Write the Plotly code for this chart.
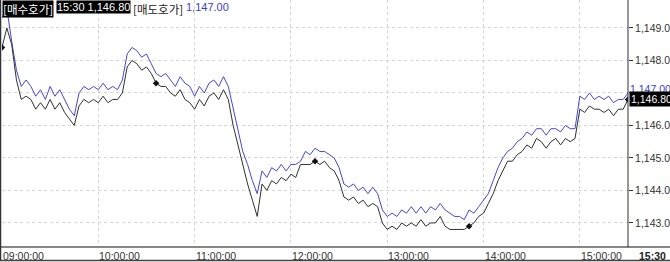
import pandas as pd
import plotly.graph_objects as go

# ---- data (3-minute samples, 09:00 -> 15:30) ----
start_time = "2024-01-02 09:00"
step_minutes = 3

ask_prices = [  # 매도호가 (blue)
    1149.3, 1149.6, 1148.6, 1147.7, 1147.2, 1147.4, 1147.2, 1146.9, 1147.1, 1146.8,
    1147.2, 1146.9, 1147.1, 1146.8, 1146.5, 1146.3, 1147.0, 1147.2, 1147.1, 1147.2,
    1147.1, 1147.3, 1147.1, 1147.2, 1147.1, 1147.4, 1148.2, 1148.4, 1148.3, 1148.1,
    1148.2, 1147.9, 1147.6, 1147.5, 1147.6, 1147.4, 1147.2, 1147.5, 1147.3, 1147.2,
    1146.9, 1147.2, 1147.0, 1147.3, 1147.4, 1147.2, 1147.5, 1147.2, 1146.5, 1145.9,
    1145.2, 1144.8, 1144.3, 1143.9, 1144.6, 1144.4, 1144.7, 1144.6, 1144.8, 1144.6,
    1144.8, 1144.8, 1144.9, 1145.2, 1145.1, 1145.3, 1145.2, 1145.2, 1145.1, 1145.0,
    1144.7, 1144.2, 1144.1, 1144.2, 1144.0, 1144.1, 1143.9, 1144.1, 1143.9, 1143.4,
    1143.2, 1143.3, 1143.2, 1143.4, 1143.3, 1143.5, 1143.3, 1143.5, 1143.3, 1143.5,
    1143.4, 1143.6, 1143.4, 1143.3, 1143.2, 1143.2, 1143.1, 1143.4, 1143.3, 1143.5,
    1143.7, 1143.9, 1144.3, 1144.7, 1145.0, 1145.2, 1145.3, 1145.5, 1145.6, 1145.8,
    1145.7, 1145.9, 1145.9, 1145.7, 1145.9, 1145.9, 1145.8, 1146.0, 1145.9, 1145.9,
    1146.9, 1146.8, 1147.0, 1146.8, 1146.9, 1146.8, 1146.9, 1146.7, 1146.8, 1146.8,
    1147.0,
]

bid_prices = [  # 매수호가 (black)
    1148.4, 1149.0, 1148.5, 1147.4, 1146.8, 1146.9, 1146.8, 1146.5, 1146.7, 1146.5,
    1146.8, 1146.5, 1146.7, 1146.4, 1146.2, 1146.0, 1146.6, 1146.8, 1146.7, 1146.8,
    1146.7, 1146.9, 1146.7, 1146.8, 1146.8, 1147.0, 1147.8, 1148.0, 1147.9, 1147.7,
    1147.8, 1147.6, 1147.3, 1147.2, 1147.2, 1147.0, 1146.9, 1147.1, 1146.8, 1146.7,
    1146.5, 1146.8, 1146.6, 1146.9, 1147.0, 1146.8, 1147.1, 1146.8, 1146.0, 1145.4,
    1144.8, 1144.2, 1143.7, 1143.2, 1144.2, 1144.0, 1144.3, 1144.2, 1144.4, 1144.3,
    1144.5, 1144.4, 1144.8, 1144.8, 1144.8, 1144.9, 1144.8, 1144.9, 1144.7, 1144.6,
    1144.3, 1143.8, 1143.7, 1143.8, 1143.6, 1143.7, 1143.5, 1143.6, 1143.5, 1143.0,
    1142.8, 1142.9, 1142.8, 1143.0, 1142.9, 1143.0, 1142.9, 1143.1, 1142.9, 1143.0,
    1143.0, 1143.2, 1142.9, 1142.8, 1142.8, 1142.8, 1142.8, 1142.9, 1143.0, 1143.2,
    1143.3, 1143.6, 1143.9, 1144.3, 1144.6, 1144.9, 1144.9, 1145.1, 1145.2, 1145.4,
    1145.3, 1145.6, 1145.5, 1145.3, 1145.5, 1145.6, 1145.4, 1145.6, 1145.5, 1145.6,
    1146.5, 1146.4, 1146.6, 1146.5, 1146.5, 1146.4, 1146.5, 1146.3, 1146.5, 1146.5,
    1146.8,
]

trade_marker_idx = [0, 32, 65, 97, 130]

hour_ticks = ["09:00:00", "10:00:00", "11:00:00", "12:00:00", "13:00:00", "14:00:00", "15:00:00"]
price_ticks = [1143, 1144, 1145, 1146, 1147, 1148, 1149]
price_labels = ["1,143.0", "1,144.0", "1,145.0", "1,146.0", "", "1,148.0", "1,149.0"]

last_time_label = "15:30"
last_bid = 1146.80
last_ask = 1147.00

# ---- figure ----
times = pd.date_range(start_time, periods=len(ask_prices), freq=f"{step_minutes}min")
day = start_time.split(" ")[0]
end_time = f"{day} 15:30"

W, H = 670, 262
ML, MR, MT, MB = 2, 42, 0, 15
PW, PH = W - ML - MR, H - MT - MB

fig = go.Figure()
fig.add_trace(go.Scatter(x=times, y=ask_prices, mode="lines",
                         line=dict(color="#4646dc", width=1), hoverinfo="skip"))
fig.add_trace(go.Scatter(x=times, y=bid_prices, mode="lines",
                         line=dict(color="#303030", width=1), hoverinfo="skip"))
fig.add_trace(go.Scatter(x=[times[i] for i in trade_marker_idx],
                         y=[bid_prices[i] for i in trade_marker_idx],
                         mode="markers",
                         marker=dict(symbol="diamond", size=5, color="#111111"),
                         hoverinfo="skip"))

font_base = "Liberation Sans, Arial, sans-serif"
kfont = "Noto Sans CJK KR, sans-serif"

annotations = []
for t in hour_ticks:
    annotations.append(dict(x=f"{day} {t}", y=0, xref="x", yref="paper",
                            text=t, showarrow=False, xanchor="left", yanchor="top",
                            yshift=-1, xshift=-1,
                            font=dict(family=font_base, size=10.5, color="#333333")))
annotations.append(dict(x=(W - 2 - ML) / PW, y=0, xref="paper", yref="paper",
                        text=f"<b>{last_time_label}</b>", showarrow=False,
                        xanchor="right", yanchor="top", yshift=-1,
                        font=dict(family=font_base, size=10.5, color="#222222")))

# header
annotations += [
    dict(x=0, y=1, xref="paper", yref="paper", text="[매수호가]", showarrow=False,
         xanchor="left", yanchor="top", bgcolor="#000000", borderpad=0,
         font=dict(family=kfont, size=11.5, color="#ffffff")),
    dict(x=54 / PW, y=1, xref="paper", yref="paper",
         text=f"{last_time_label} {last_bid:,.2f}", showarrow=False,
         xanchor="left", yanchor="top", bgcolor="#000000", borderpad=0,
         font=dict(family=font_base, size=11, color="#ffffff")),
    dict(x=130 / PW, y=1, xref="paper", yref="paper", text="[매도호가]", showarrow=False,
         xanchor="left", yanchor="top", borderpad=0,
         font=dict(family=kfont, size=11.5, color="#222222")),
    dict(x=183 / PW, y=1, xref="paper", yref="paper", text=f"{last_ask:,.2f}",
         showarrow=False, xanchor="left", yanchor="top", borderpad=0,
         font=dict(family=font_base, size=11, color="#3c3ccc")),
]
# right-side current price labels (bid box drawn over the ask label as in the source)
annotations += [
    dict(x=1, y=last_ask, xref="paper", yref="y", text=f"{last_ask:,.2f}",
         showarrow=False, xanchor="left", yanchor="middle", xshift=1, yshift=4,
         borderpad=0, font=dict(family=font_base, size=10.5, color="#3c3ccc")),
    dict(x=1, y=last_bid, xref="paper", yref="y", text=f"{last_bid:,.2f}",
         showarrow=False, xanchor="left", yanchor="middle", xshift=1,
         bgcolor="#000000", borderpad=1,
         font=dict(family=font_base, size=10.5, color="#ffffff")),
]

shapes = [
    dict(type="line", xref="paper", yref="paper", x0=1, x1=1, y0=0, y1=1,
         line=dict(color="#333333", width=1)),
    dict(type="line", xref="paper", yref="paper", x0=-ML / PW, x1=(W - ML) / PW,
         y0=0, y1=0, line=dict(color="#111111", width=1.2)),
    dict(type="line", xref="paper", yref="paper", x0=-ML / PW, x1=(W - ML) / PW,
         y0=-(MB - 1.5) / PH, y1=-(MB - 1.5) / PH, line=dict(color="#444444", width=1.5)),
    dict(type="line", xref="paper", yref="paper", x0=-1.5 / PW, x1=-1.5 / PW,
         y0=-(MB - 1.5) / PH, y1=1, line=dict(color="#333333", width=1.5)),
]

fig.update_layout(
    width=W, height=H,
    margin=dict(l=ML, r=MR, t=MT, b=MB, pad=0),
    paper_bgcolor="#ffffff", plot_bgcolor="#ffffff",
    showlegend=False,
    annotations=annotations,
    shapes=shapes,
    xaxis=dict(range=[start_time, end_time], type="date",
               tickvals=[f"{day} {t}" for t in hour_ticks],
               showticklabels=False, ticks="",
               showgrid=True, gridcolor="#d4d4d4", griddash="dot", gridwidth=1,
               zeroline=False, showline=False, fixedrange=True),
    yaxis=dict(range=[1142.26, 1149.86], side="right",
               tickvals=price_ticks, ticktext=price_labels,
               ticks="outside", ticklen=4, tickcolor="#333333",
               tickfont=dict(family=font_base, size=10.5, color="#333333"),
               showgrid=True, gridcolor="#d4d4d4", griddash="dot", gridwidth=1,
               zeroline=False, showline=False, fixedrange=True),
)

fig.write_html("out.html", config={"displayModeBar": False})
